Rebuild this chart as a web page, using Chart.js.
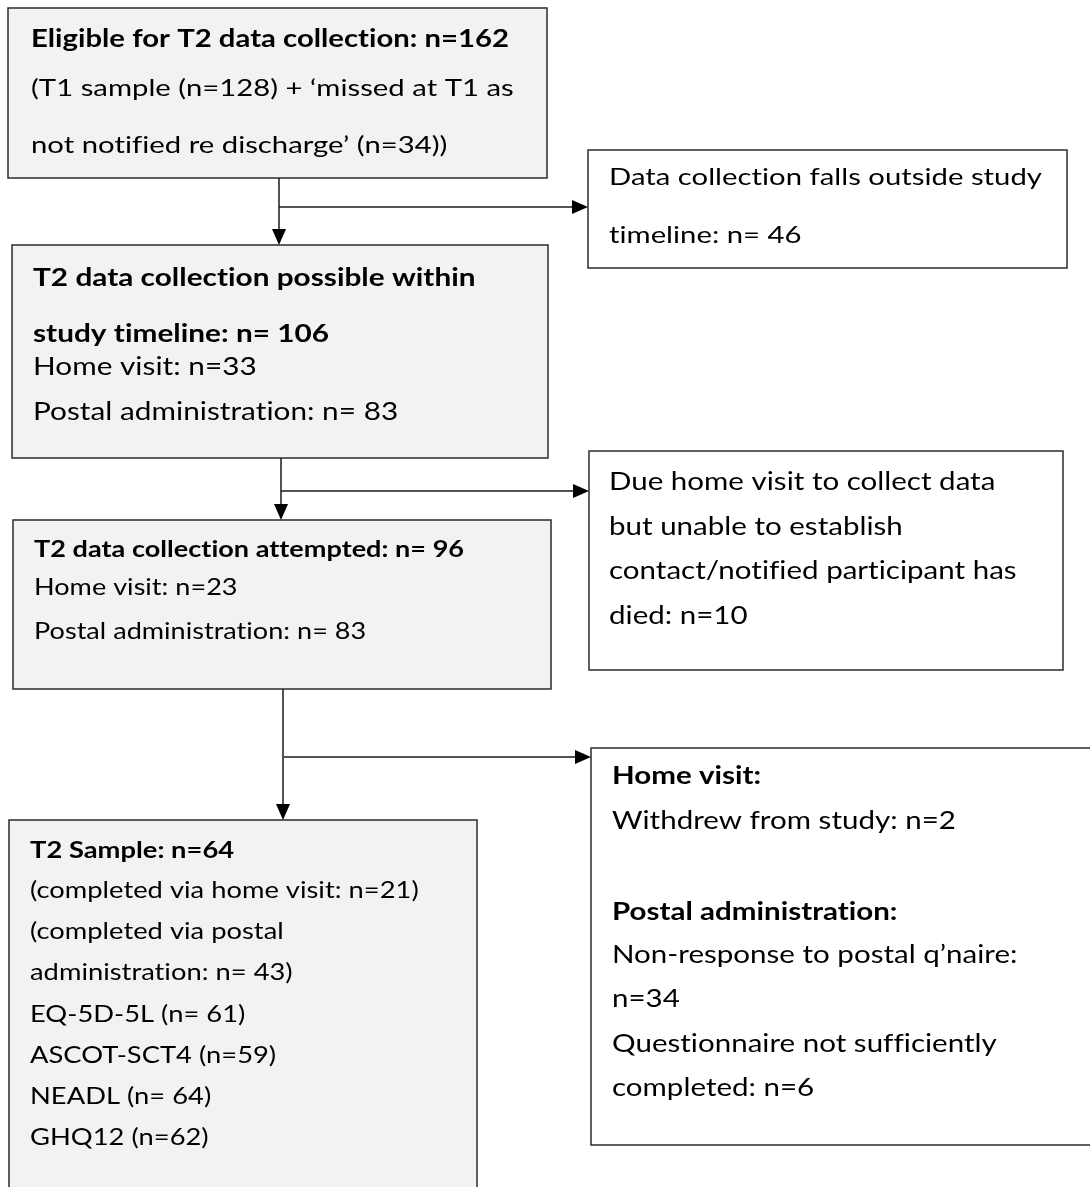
<!DOCTYPE html>
<html>
<head>
<meta charset="utf-8">
<script src="https://cdn.jsdelivr.net/npm/chart.js@4.4.0/dist/chart.umd.min.js"></script>
<style>
  body { margin: 0; background: #fff; }
  #wrap { width: 1090px; height: 1187px; }
</style>
</head>
<body>
<div id="wrap"><canvas id="flow"></canvas></div>
<script>
// counts shown in the flow diagram
const eligibleCounts = [162, 128, 34];          // eligible, T1 sample, missed at T1
const outsideCounts = [46];                     // outside study timeline
const possibleCounts = [106, 33, 83];           // possible, home visit, postal
const attemptedCounts = [96, 23, 83];           // attempted, home visit, postal
const noContactCounts = [10];                   // unable to contact / died
const lossCounts = [2, 34, 6];                  // withdrew, non-response, not completed
const sampleCounts = [64, 21, 43];              // T2 sample, home visit, postal
const measureNames = ["EQ-5D-5L", "ASCOT-SCT4", "NEADL", "GHQ12"];
const measureCounts = ["n= 61", "n=59", "n= 64", "n=62"];

// box texts: [text, bold]
const box1Lines = [
  ["Eligible for T2 data collection: n=" + eligibleCounts[0], true],
  ["(T1 sample (n=" + eligibleCounts[1] + ") + \u2018missed at T1 as", false],
  ["not notified re discharge\u2019 (n=" + eligibleCounts[2] + "))", false]
];
const box2Lines = [
  ["Data collection falls outside study", false],
  ["timeline: n= " + outsideCounts[0], false]
];
const box3Lines = [
  ["T2 data collection possible within", true],
  ["study timeline: n= " + possibleCounts[0], true],
  ["Home visit: n=" + possibleCounts[1], false],
  ["Postal administration: n= " + possibleCounts[2], false]
];
const box4Lines = [
  ["T2 data collection attempted: n= " + attemptedCounts[0], true],
  ["Home visit: n=" + attemptedCounts[1], false],
  ["Postal administration: n= " + attemptedCounts[2], false]
];
const box5Lines = [
  ["Due home visit to collect data", false],
  ["but unable to establish", false],
  ["contact/notified participant has", false],
  ["died: n=" + noContactCounts[0], false]
];
const box6Lines = [
  ["Home visit:", true],
  ["Withdrew from study: n=" + lossCounts[0], false],
  ["Postal administration:", true],
  ["Non-response to postal q\u2019naire:", false],
  ["n=" + lossCounts[1], false],
  ["Questionnaire not sufficiently", false],
  ["completed: n=" + lossCounts[2], false]
];
const box7Lines = [
  ["T2 Sample: n=" + sampleCounts[0], true],
  ["(completed via home visit: n=" + sampleCounts[1] + ")", false],
  ["(completed via postal", false],
  ["administration: n= " + sampleCounts[2] + ")", false]
].concat(measureNames.map((m, i) => [m + " (" + measureCounts[i] + ")", false]));

// layout in scale units (x 0..1090, y 0..1187 top-down)
const boxes = [
  { x0: 8, y0: 8, x1: 547, y1: 178, fill: "#f2f2f2", lines: box1Lines, size: 24, tx: 31, ty: [39, 88, 145] },
  { x0: 588, y0: 150, x1: 1067, y1: 268, fill: "#ffffff", lines: box2Lines, size: 24, tx: 609, ty: [177, 235] },
  { x0: 12, y0: 245, x1: 548, y1: 458, fill: "#f2f2f2", lines: box3Lines, size: 24.4, tx: 33, ty: [278, 334, 367, 412] },
  { x0: 13, y0: 520, x1: 551, y1: 689, fill: "#f2f2f2", lines: box4Lines, size: 22.2, tx: 34, ty: [550, 588, 632] },
  { x0: 589, y0: 451, x1: 1063, y1: 670, fill: "#ffffff", lines: box5Lines, size: 24.2, tx: 609, ty: [482, 527, 571, 616] },
  { x0: 591, y0: 748, x1: 1095, y1: 1145, fill: "#ffffff", lines: box6Lines, size: 24.2, tx: 612, ty: [776, 821, 912, 955, 999, 1044, 1088] },
  { x0: 9, y0: 820, x1: 477, y1: 1195, fill: "#f2f2f2", lines: box7Lines, size: 22.4, tx: 30, ty: [851, 891, 932, 973, 1015, 1056, 1097, 1138] }
];

// connectors: [from, to]
const arrows = [
  [[279, 178], [279, 245]],
  [[279, 207], [588, 207]],
  [[281, 458], [281, 520]],
  [[281, 491], [589, 491]],
  [[283, 689], [283, 820]],
  [[284, 757], [591, 757]]
];

const fontFamily = "Lato, 'Open Sans', sans-serif";
const textStretch = 1.22; // reference text is wide for its height

const flowPlugin = {
  id: "flow",
  afterDraw(chart) {
    const ctx = chart.ctx;
    const sx = chart.scales.x;
    const sy = chart.scales.y;
    const px = v => sx.getPixelForValue(v);
    const py = v => sy.getPixelForValue(v);
    ctx.save();

    // boxes
    boxes.forEach(b => {
      const x = px(b.x0), y = py(b.y0);
      const w = px(b.x1) - x, h = py(b.y1) - y;
      ctx.fillStyle = b.fill;
      ctx.fillRect(x, y, w, h);
      ctx.strokeStyle = "#2b2b2b";
      ctx.lineWidth = 1.5;
      ctx.strokeRect(x, y, w, h);
      ctx.fillStyle = "#000";
      ctx.textBaseline = "middle";
      ctx.textAlign = "left";
      if ("letterSpacing" in ctx) ctx.letterSpacing = "0.01px"; // avoid "ti" ligature
      b.lines.forEach((ln, i) => {
        ctx.font = (ln[1] ? "bold " : "") + b.size + "px " + fontFamily;
        ctx.save();
        ctx.translate(px(b.tx), py(b.ty[i]));
        ctx.scale(textStretch, 1);
        ctx.fillText(ln[0], 0, 0);
        ctx.restore();
      });
    });

    // arrows
    ctx.strokeStyle = "#1a1a1a";
    ctx.fillStyle = "#000";
    ctx.lineWidth = 1.5;
    arrows.forEach(a => {
      const x0 = px(a[0][0]), y0 = py(a[0][1]);
      const x1 = px(a[1][0]), y1 = py(a[1][1]);
      const ang = Math.atan2(y1 - y0, x1 - x0);
      const len = 16, half = 7;
      ctx.beginPath();
      ctx.moveTo(x0, y0);
      ctx.lineTo(x1 - Math.cos(ang) * len, y1 - Math.sin(ang) * len);
      ctx.stroke();
      ctx.beginPath();
      ctx.moveTo(x1, y1);
      ctx.lineTo(x1 - Math.cos(ang) * len - Math.sin(ang) * half, y1 - Math.sin(ang) * len + Math.cos(ang) * half);
      ctx.lineTo(x1 - Math.cos(ang) * len + Math.sin(ang) * half, y1 - Math.sin(ang) * len - Math.cos(ang) * half);
      ctx.closePath();
      ctx.fill();
    });
    ctx.restore();
  }
};

new Chart(document.getElementById("flow"), {
  type: "scatter",
  data: { datasets: [{ data: [], pointRadius: 0 }] },
  options: {
    responsive: true,
    maintainAspectRatio: false,
    animation: false,
    layout: { padding: 0 },
    plugins: { legend: { display: false }, tooltip: { enabled: false } },
    scales: {
      x: { type: "linear", min: 0, max: 1090, display: false },
      y: { type: "linear", min: 0, max: 1187, reverse: true, display: false }
    }
  },
  plugins: [flowPlugin]
});
</script>
</body>
</html>
